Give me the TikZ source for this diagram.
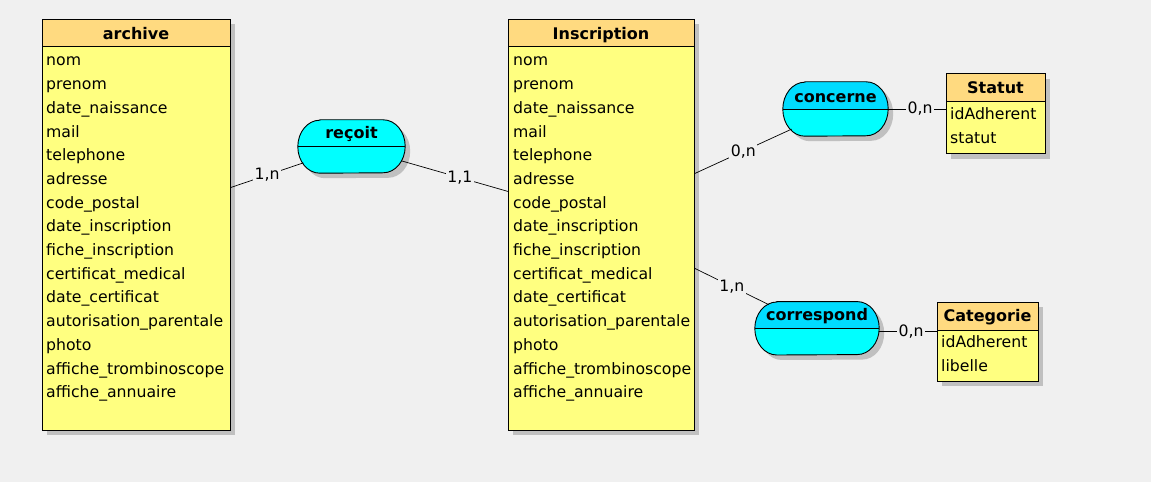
\documentclass[tikz,border=0pt]{standalone}
\usepackage{fontspec}
\setmainfont{DejaVu Sans}
\usetikzlibrary{shadows,shapes.misc}
\definecolor{bg}{HTML}{F0F0F0}
\definecolor{entbody}{HTML}{FFFF80}
\definecolor{enthead}{HTML}{FFDA80}
\definecolor{relfill}{HTML}{00FFFF}
\definecolor{reltop}{HTML}{00DCFF}
\definecolor{shadowgray}{HTML}{C0C0C0}
\newcommand{\txtfont}{\fontsize{15.7}{18}\selectfont}
\newcommand{\ttlfont}{\fontsize{16}{18}\selectfont\bfseries}
% stadium outline with elliptical ends: #1 node, #2 x radius, #3 y radius
\newcommand{\relpath}[3]{([xshift=#2]#1.west |- #1.north) -- ([xshift=-#2]#1.east |- #1.north) arc[start angle=90,end angle=-90,x radius=#2,y radius=#3] -- ([xshift=#2]#1.west |- #1.south) arc[start angle=270,end angle=90,x radius=#2,y radius=#3] -- cycle}
% draw a relation: #1 node, #2 x radius, #3 y radius, #4 top colour
\newcommand{\drawrel}[4]{%
  \begin{scope}[transform canvas={shift={(5pt,-5pt)}}]
    \fill[shadowgray] \relpath{#1}{#2}{#3};
  \end{scope}
  \fill[relfill] \relpath{#1}{#2}{#3};
  \begin{scope}
    \clip (#1.west |- #1.north) ++(-2pt,2pt) rectangle (#1.east);
    \fill[#4] \relpath{#1}{#2}{#3};
  \end{scope}
  \draw[line width=0.9pt] \relpath{#1}{#2}{#3};
  \draw[line width=0.9pt] (#1.west) -- (#1.east);
}
\begin{document}
\begin{tikzpicture}[x=1pt,y=1pt,
  shadowed/.style={drop shadow={shadow xshift=5pt, shadow yshift=-5pt, fill=shadowgray, opacity=1}},
  entbox/.style={draw=black, line width=0.9pt, fill=entbody, inner sep=0pt, shadowed},
  headbox/.style={draw=black, line width=0.9pt, fill=enthead, inner sep=0pt},
  attr/.style={anchor=base west, inner sep=0pt, font=\txtfont, text=black},
  title/.style={anchor=base, inner sep=0pt, font=\ttlfont, text=black},
  relbox/.style={rounded rectangle, draw=none, inner sep=0pt},
  card/.style={fill=bg, inner sep=1.5pt, font=\txtfont, text=black},
  link/.style={draw=black, line width=0.7pt}]
\fill[bg] (0,0) rectangle (1151,482);
\useasboundingbox (0,0) rectangle (1151,482);

% archive
\node[entbox, minimum width=188pt, minimum height=411pt, anchor=north west] (archive) at (42,463) {};
\node[headbox, minimum width=188pt, minimum height=27pt, anchor=north west] (archiveh) at (archive.north west) {};
\node[title] (archivet) at (136,442) {archive};
\foreach \t [count=\i from 0] in {nom,prenom,date\_naissance,mail,telephone,adresse,code\_postal,date\_inscription,fiche\_inscription,certificat\_medical,date\_certificat,autorisation\_parentale,photo,affiche\_trombinoscope,affiche\_annuaire}
  \node[attr] (arch-\i) at (46,{416-23.7*\i}) {\t};

% Inscription
\node[entbox, minimum width=186pt, minimum height=411pt, anchor=north west] (insc) at (508,463) {};
\node[headbox, minimum width=186pt, minimum height=27pt, anchor=north west] (insch) at (insc.north west) {};
\node[title] (insct) at (601,442) {Inscription};
\foreach \t [count=\i from 0] in {nom,prenom,date\_naissance,mail,telephone,adresse,code\_postal,date\_inscription,fiche\_inscription,certificat\_medical,date\_certificat,autorisation\_parentale,photo,affiche\_trombinoscope,affiche\_annuaire}
  \node[attr] (insc-\i) at (513,{416-23.7*\i}) {\t};

% Statut
\node[entbox, minimum width=99pt, minimum height=80pt, anchor=north west] (statut) at (946,408.7) {};
\node[headbox, minimum width=99pt, minimum height=27.4pt, anchor=north west] (statuth) at (statut.north west) {};
\node[title] (statutt) at (995.5,388.7) {Statut};
\node[attr] (stat-0) at (950,362.7) {idAdherent};
\node[attr] (stat-1) at (950,338.7) {statut};

% Categorie
\node[entbox, minimum width=101pt, minimum height=79pt, anchor=north west] (categ) at (937,180.3) {};
\node[headbox, minimum width=101pt, minimum height=28.3pt, anchor=north west] (categh) at (categ.north west) {};
\node[title] (categt) at (987.5,160.3) {Categorie};
\node[attr] (cat-0) at (941,134.7) {idAdherent};
\node[attr] (cat-1) at (941,110.3) {libelle};

% relations
\node[relbox, minimum width=107pt, minimum height=53pt] (recoit) at (351.5,335.5) {};
\drawrel{recoit}{22pt}{26.5pt}{relfill}
\node[title] (recoitt) at (351.5,343) {reçoit};

\node[relbox, minimum width=105pt, minimum height=54pt] (concerne) at (835.5,373) {};
\drawrel{concerne}{22pt}{27pt}{reltop}
\node[title] (concernet) at (835.5,379.7) {concerne};

\node[relbox, minimum width=124pt, minimum height=53pt] (corresp) at (817,153.7) {};
\drawrel{corresp}{22pt}{26.5pt}{reltop}
\node[title] (correspt) at (817,161) {correspond};

% links
\draw[link] ([yshift=37.5pt]archive.east) -- (recoit) node[card, pos=0.5] (c1) {1,n};
\draw[link] (recoit) -- ([yshift=33.5pt]insc.west) node[card, pos=0.55] (c2) {1,1};
\draw[link] ([yshift=51.5pt]insc.east) -- (concerne) node[card, pos=0.5] (c3) {0,n};
\draw[link] (concerne.east) -- (concerne.east -| statut.west) node[card, pos=0.55] (c4) {0,n};
\draw[link] ([yshift=-43.5pt]insc.east) -- (corresp) node[card, pos=0.5] (c5) {1,n};
\draw[link] ([yshift=-3.4pt]corresp.east) -- ([yshift=-3.4pt]corresp.east -| categ.west) node[card, pos=0.55] (c6) {0,n};
\end{tikzpicture}
\end{document}
